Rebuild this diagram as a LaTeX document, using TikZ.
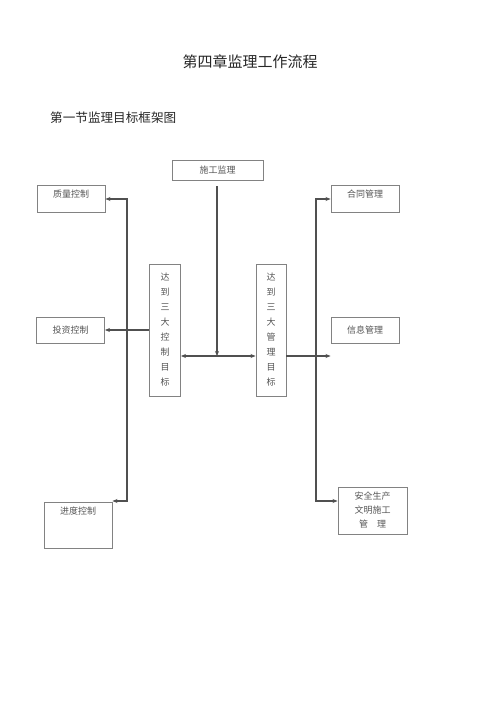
\documentclass[tikz,border=0pt]{standalone}
\usepackage{fontspec}
\newfontfamily\cjk{Noto Sans CJK SC}
\usetikzlibrary{arrows.meta,positioning}
\definecolor{boxline}{RGB}{130,130,130}
\definecolor{boxtext}{RGB}{85,85,85}
\definecolor{wire}{RGB}{80,80,80}
\begin{document}
\begin{tikzpicture}[x=1pt, y=-1pt,
    every node/.style={font=\cjk},
    box/.style={draw=boxline, line width=0.9pt, text=boxtext, font=\cjk\fontsize{9}{14}\selectfont, inner xsep=0pt, minimum width=68, align=center},
    topbox/.style={box, inner ysep=5pt, text height=7pt},
    tallbox/.style={box, minimum width=31, minimum height=132, font=\cjk\fontsize{9}{15}\selectfont},
    wire/.style={draw=wire, line width=1.2pt, -{Stealth[length=5pt,width=4pt]}}]
  \useasboundingbox (0,0) rectangle (500,707);

  \node[text=black!85] (title) at (250,62) {\fontsize{15}{18}\selectfont 第四章监理工作流程};
  \node[anchor=west, inner sep=0pt, text=black!85] (sub) at (50,118) {\fontsize{12.6}{15}\selectfont 第一节监理目标框架图};

  \node[box, minimum width=91, minimum height=20] (sg) at (217.5,170) {施工监理};
  \node[topbox, text depth=10pt] (zl) at (71,198.5) {质量控制};
  \node[topbox, text depth=10pt] (ht) at (365,198.5) {合同管理};
  \node[box, minimum height=26] (tz) at (70.5,330) {投资控制};
  \node[box, minimum height=26] (xx) at (365,330) {信息管理};
  \node[topbox, text depth=29pt] (jd) at (78,525) {进度控制};
  \node[box, minimum width=69, minimum height=47] (aq) at (372.5,510.5) {安全生产\\文明施工\\管\quad 理};
  \node[tallbox] (kz) at (165,330) {达\\到\\三\\大\\控\\制\\目\\标};
  \node[tallbox, minimum width=30] (gl) at (271,330) {达\\到\\三\\大\\管\\理\\目\\标};

  \coordinate (mid) at (217,356);
  \coordinate (lt) at (127,199);
  \coordinate (lb) at (127,501);
  \coordinate (rt) at (316,199);
  \coordinate (rb) at (316,501);

  \draw[wire, shorten <=6pt] (sg.south -| mid) -- (mid);
  \draw[wire, {Stealth[length=5pt,width=4pt]}-{Stealth[length=5pt,width=4pt]}] (kz.east |- mid) -- (gl.west |- mid);
  \draw[wire] (gl.east |- mid) -- (xx.west |- mid);
  \draw[wire] (kz.west) -- (tz.east);
  \draw[wire] (lb) -- (lt) -- (zl.east |- lt);
  \draw[wire] (lt) -- (lb) -- (jd.north east |- lb);
  \draw[wire] (rb) -- (rt) -- (ht.west |- rt);
  \draw[wire] (rt) -- (rb) -- (aq.west |- rb);
\end{tikzpicture}
\end{document}
